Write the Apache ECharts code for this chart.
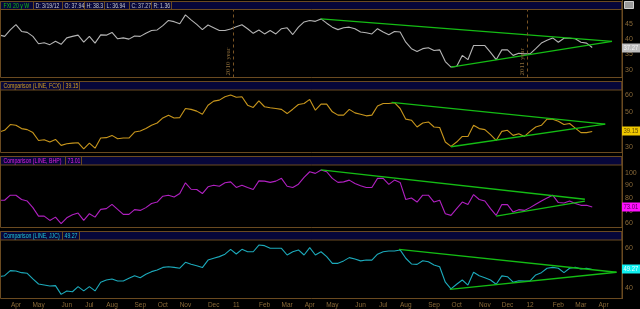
<!DOCTYPE html>
<html><head><meta charset="utf-8">
<script src="https://cdn.jsdelivr.net/npm/echarts@6/dist/echarts.min.js"></script>
<style>html,body{margin:0;padding:0;background:#000;}#c{width:640px;height:309px;}</style>
</head><body><div id="c"></div>
<script>
// ---- data ----
const firstWeek = '2010-03-15';           // weekly bars, last bar 2012-03-19
const monthNames = ['Jan','Feb','Mar','Apr','May','Jun','Jul','Aug','Sep','Oct','Nov','Dec'];

const fxi = [41.4,40.9,43.0,44.7,42.5,42.2,40.9,38.5,38.8,38.2,
  39.3,38.3,40.4,40.9,41.3,39.0,40.9,38.7,41.4,41.3,
  42.2,40.1,40.4,40.0,41.0,40.9,41.9,42.8,43.0,44.4,
  46.1,45.7,45.0,47.9,46.3,44.8,43.1,44.6,43.7,42.8,
  42.8,43.3,44.0,44.7,43.4,41.9,43.0,41.7,42.8,41.7,
  43.4,43.7,41.5,43.9,45.6,46.1,45.8,46.6,45.2,43.9,
  43.1,43.7,43.9,43.4,42.3,42.1,41.7,43.4,42.3,41.4,
  42.5,42.3,39.0,36.9,36.0,36.9,37.2,36.3,36.5,32.7,
  30.9,31.1,34.7,33.3,37.9,37.9,37.9,35.7,33.3,36.5,
  36.5,34.7,35.4,35.2,35.2,36.9,38.7,39.6,40.4,39.0,
  40.3,40.3,40.1,39.0,38.7,37.27];
const fcx = [38.8,39.8,43.1,42.7,40.8,40.2,38.5,34.0,34.4,33.1,
  34.6,31.2,32.1,32.5,32.7,29.2,32.5,29.6,35.4,35.6,
  36.9,35.0,35.4,35.4,38.8,39.4,40.8,42.7,44.0,46.9,
  48.5,46.9,47.1,52.3,51.8,50.8,49.0,54.2,56.5,57.1,
  59.0,60.0,58.7,59.0,54.2,52.9,56.7,53.3,52.7,52.3,
  51.8,49.4,51.9,54.6,55.2,57.5,51.3,54.8,54.8,50.4,
  48.5,48.5,51.8,49.8,49.0,48.1,48.5,53.7,55.2,55.2,
  55.6,52.3,46.2,45.6,41.7,44.0,44.6,41.7,41.4,33.1,
  30.6,33.1,36.3,36.3,42.7,40.8,40.2,37.3,34.0,39.2,
  39.8,36.9,37.9,36.3,39.2,41.7,42.7,46.2,46.2,45.0,
  43.1,43.7,41.1,38.5,38.5,39.15];
const bhp = [78.3,78.3,82.3,82.3,78.9,77.7,72.5,65.8,65.8,62.4,
  65.0,59.8,64.5,66.9,68.2,62.4,67.7,65.0,71.1,71.7,
  75.1,71.1,67.2,67.2,70.9,70.3,72.5,75.7,76.9,81.5,
  82.3,80.9,83.6,92.1,87.0,86.8,83.6,88.9,90.2,89.4,
  92.1,92.8,88.4,90.2,88.4,86.8,93.6,93.4,92.4,93.4,
  95.6,89.4,88.4,91.0,96.3,100.8,99.5,102.2,100.8,95.6,
  92.4,92.8,94.2,91.6,89.7,88.4,88.4,95.6,95.6,90.8,
  94.2,92.4,78.9,80.1,76.9,82.3,82.3,76.9,78.3,67.7,
  66.4,71.7,76.9,74.9,82.8,78.9,77.7,71.7,66.4,74.9,
  74.9,69.0,70.9,70.3,72.5,75.1,77.7,80.1,82.3,76.5,
  76.1,77.7,75.7,74.3,74.3,73.01];
const jjc = [45.7,46.2,48.7,48.5,47.7,47.4,44.6,42.1,41.6,41.1,
  41.3,37.0,38.7,38.3,40.8,38.7,40.8,38.7,43.0,44.1,
  44.6,43.6,43.6,44.9,46.2,45.2,46.9,48.2,49.0,50.3,
  50.6,50.3,49.9,52.8,51.8,51.1,50.2,53.9,54.8,55.6,
  56.8,59.2,56.9,59.2,58.0,58.0,61.3,61.0,59.7,59.7,
  59.7,56.4,58.0,58.9,56.4,60.0,56.4,58.0,55.6,52.3,
  52.3,53.5,55.1,54.4,53.5,53.9,53.9,56.8,58.0,58.4,
  58.4,58.9,54.8,52.0,51.8,53.6,53.1,51.5,50.6,43.0,
  39.7,42.0,44.1,41.6,47.9,46.2,45.2,44.1,42.0,46.1,
  45.7,43.0,43.7,43.6,43.6,46.6,47.7,49.9,50.3,49.9,
  47.7,49.9,50.3,49.5,49.9,49.27];

// trend lines: [week index, value] end points
const fxiTrend = [[[57,46.6],[108.5,39.3]], [[80,30.9],[108.5,39.3]]];
const fcxTrend = [[[69.5,55.8],[107.3,43.3]], [[80,30.4],[107.3,43.3]]];
const bhpTrend = [[[57,102.2],[103.7,79.1]], [[88,65.8],[103.7,77.7]]];
const jjcTrend = [[[70.8,59.2],[109.3,47.9]], [[79.8,39.5],[109.3,47.9]]];

const yTicks = [[30,35,40,45],[30,40,50,60],[60,70,80,90,100],[40,50,60]];
const yRanges = [[27.49,49.66],[27.11,62.89],[56.82,106.12],[35.22,63.79]];
const yearMarks = [['2010 year','2010-12-30T12:00:00Z'],['2011 year','2011-12-29T12:00:00Z']];
const headers = [
  [['FXI 20 y W','#10c010'],['D: 3/19/12','#c8c8c8'],['O: 37.94','#c8c8c8'],['H: 38.3','#c8c8c8'],['L: 36.94','#c8c8c8'],['C: 37.27','#c8c8c8'],['R: 1.36','#c8c8c8']],
  [['Comparison (LINE, FCX)','#d4a020'],['39.15','#d4a020']],
  [['Comparison (LINE, BHP)','#e020e0'],['73.01','#e020e0']],
  [['Comparison (LINE, JJC)','#20c8d8'],['49.27','#20c8d8']]
];

// ---- layout / style ----
const DAY = 86400000, WEEK = 7*DAY;
const t0 = Date.parse(firstWeek + 'T00:00:00Z');
const wt = i => t0 + i*WEEK;                 // week index -> time
const wk = s => (Date.parse(s) - t0) / WEEK; // date -> week index
const xMin = 0.18, xMax = 110.27;
const brown = '#6a4a20', labelBrown = '#8a6a38', navy = '#06063a', green = '#14bc14';
const panels = [
  {data:fxi, trend:fxiTrend, color:'#b4b4b4', hTop:1.5, top:9.5, bottom:77.5, box:'#bdbdbd', boxText:'#f4f4f4', cells:[33,62,84,104,129,151,171]},
  {data:fcx, trend:fcxTrend, color:'#c8961c', hTop:81.5, top:90, bottom:152.5, box:'#f0c800', boxText:'#604800', cells:[63,79]},
  {data:bhp, trend:bhpTrend, color:'#b020c0', hTop:156.5, top:165, bottom:227.5, box:'#ff10ff', boxText:'#500050', cells:[65,81]},
  {data:jjc, trend:jjcTrend, color:'#1caabb', hTop:231.5, top:240, bottom:298.5, box:'#10f0f0', boxText:'#f0ffff', cells:[62,79]}
];

// month ticks at the first weekly bar of each month
const monthTicks = [];
for (let i = 0; i <= 110; i++) {
  if (new Date(wt(i)).getUTCDate() <= 7) monthTicks.push(i);
}
const fmtMonth = v => {
  const d = new Date(wt(v));
  const m = d.getUTCMonth();
  return m === 0 ? String(d.getUTCFullYear()).slice(2) : monthNames[m];
};

const grids = [], xAxes = [], yAxes = [], series = [];
panels.forEach((p, k) => {
  grids.push({left:0, right:18, top:p.top, height:p.bottom - p.top});
  xAxes.push({type:'value', gridIndex:k, min:xMin, max:xMax,
    axisLine:{show:false}, axisTick:{show:false}, splitLine:{show:false},
    axisLabel:{show:k === 3, customValues:monthTicks, formatter:fmtMonth, color:labelBrown,
      fontSize:6.5, fontFamily:'Liberation Sans', margin:4}});
  yAxes.push({type:'value', gridIndex:k, position:'right', min:yRanges[k][0], max:yRanges[k][1],
    axisLine:{show:false}, axisTick:{show:false}, splitLine:{show:false},
    axisLabel:{customValues:yTicks[k], color:labelBrown, fontSize:7, fontFamily:'Liberation Sans', margin:3}});
  const s = {type:'line', xAxisIndex:k, yAxisIndex:k, showSymbol:false, silent:true,
    data:p.data.map((v,i) => [i, v]), lineStyle:{color:p.color, width:1.1}, itemStyle:{color:p.color}};
  if (k === 0) s.markLine = {symbol:'none', silent:true,
      lineStyle:{type:[3,3], color:'#7a5424', width:1},
      label:{show:true, position:'insideStartTop', formatter:'{b}', color:'#8a6a38', fontSize:7, fontFamily:'Liberation Serif', distance:2},
      data:yearMarks.map(m => ({name:m[0], xAxis:wk(m[1])}))};
  series.push(s);
  p.trend.forEach(seg => series.push({type:'line', xAxisIndex:k, yAxisIndex:k, showSymbol:false, silent:true,
    data:seg.map(pt => [pt[0], pt[1]]), lineStyle:{color:green, width:1.3}}));
});

const chart = echarts.init(document.getElementById('c'), null, {renderer:'canvas'});
chart.setOption({backgroundColor:'#000', animation:false, grid:grids, xAxis:xAxes, yAxis:yAxes, series:series});

// frames, header bars and last-value boxes
const g = [];
const R = 622;
panels.forEach((p, k) => {
  g.push({type:'rect', shape:{x:0.5, y:p.hTop, width:R-0.5, height:p.top-p.hTop}, style:{fill:navy, stroke:brown, lineWidth:1}, z:50});
  g.push({type:'rect', shape:{x:0.5, y:p.hTop, width:R-0.5, height:p.bottom-p.hTop}, style:{fill:null, stroke:brown, lineWidth:1}, z:51});
  let x0 = 1;
  headers[k].forEach((c, j) => {
    const x1 = p.cells[j];
    g.push({type:'text', x:x0+2.5, y:p.hTop+0.8, scaleX:0.74, style:{text:c[0], fill:c[1], font:'7px "Liberation Sans"', textVerticalAlign:'top'}, z:53});
    g.push({type:'line', shape:{x1:x1+0.5, y1:p.hTop, x2:x1+0.5, y2:p.top}, style:{stroke:brown, lineWidth:1}, z:52});
    x0 = x1;
  });
  const last = p.data[p.data.length-1];
  const y = chart.convertToPixel({yAxisIndex:k}, last);
  g.push({type:'rect', shape:{x:R, y:Math.round(y)-4.5, width:18, height:9}, style:{fill:p.box}, z:60});
  g.push({type:'text', x:R+1.5, y:Math.round(y), scaleX:0.85, style:{text:last.toFixed(2), fill:p.boxText, font:'7px "Liberation Sans"', textVerticalAlign:'middle'}, z:61});
});
g.push({type:'line', shape:{x1:R+0.5, y1:0, x2:R+0.5, y2:299}, style:{stroke:brown, lineWidth:1}, z:55});
g.push({type:'rect', shape:{x:624.5, y:1.5, width:9, height:7}, style:{fill:'#9a9a9a', stroke:'#d0d0d0', lineWidth:1}, z:55});
chart.setOption({graphic:g});
</script></body></html>
